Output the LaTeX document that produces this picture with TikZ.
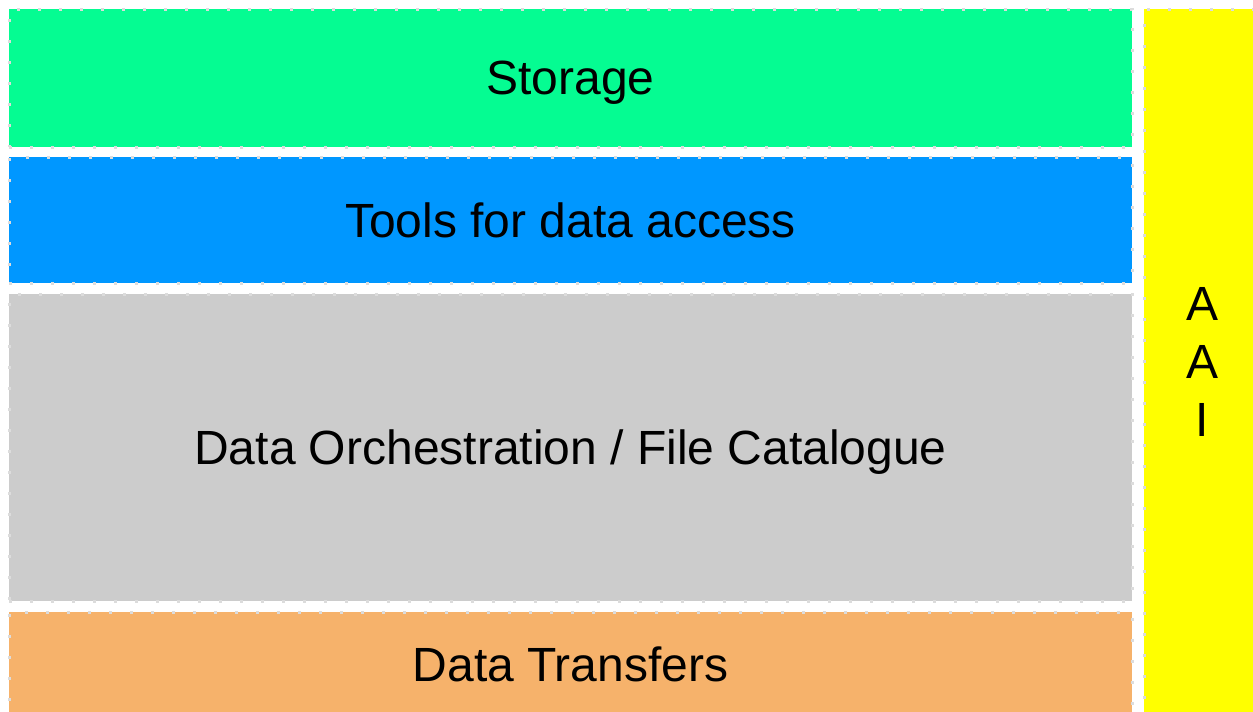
\documentclass[tikz,border=0pt]{standalone}
\usepackage{fontspec}
\setmainfont{Liberation Sans}
\definecolor{storagegreen}{RGB}{5,252,146}
\definecolor{accessblue}{RGB}{0,151,255}
\definecolor{orchgrey}{RGB}{204,204,204}
\definecolor{transferorange}{RGB}{246,178,107}
\definecolor{aaiyellow}{RGB}{255,255,0}
\definecolor{dotgrey}{RGB}{220,220,220}
\begin{document}
\begin{tikzpicture}[x=1pt, y=-1pt]

    % Styles
    \tikzstyle{layer} = [rectangle, draw=dotgrey, line width=3pt, dash pattern=on 3pt off 18pt, inner sep=0pt, minimum width=1123pt, text centered, text depth=0pt, font=\fontsize{48}{56}\selectfont]
    \tikzstyle{side} = [rectangle, draw=dotgrey, line width=3pt, dash pattern=on 3pt off 18pt, inner sep=0pt, fill=aaiyellow, minimum width=112pt, minimum height=706pt, align=center, font=\fontsize{48}{58}\selectfont]

    \useasboundingbox (0,0) rectangle (1253,712);
    \clip (0,0) rectangle (1253,712);

    % Layers
    \node[layer, fill=storagegreen, minimum height=138pt] (storage) at (570.5,78) {Storage};
    \node[layer, fill=accessblue, minimum height=126pt] (data_access) at (570.5,220) {Tools for data access};
    \node[layer, fill=orchgrey, minimum height=307pt] (orchestration) at (570.5,447.5) {Data Orchestration / File Catalogue};
    \node[layer, fill=transferorange, minimum height=104pt] (transfers) at (570.5,664) {Data Transfers};

    % AAI
    \node[side] (aai) at (1200,362) {};
    \node[align=center, font=\fontsize{48}{58}\selectfont] (aai_text) at (1202,362) {A\\A\\I};

\end{tikzpicture}
\end{document}
